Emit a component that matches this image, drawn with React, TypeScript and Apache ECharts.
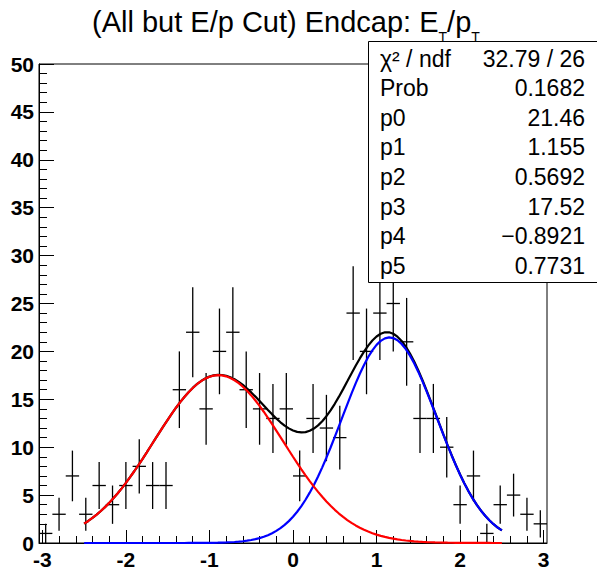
import React, { useEffect, useRef } from "react";
import * as echarts from "echarts";

const FONT = '"Liberation Sans", Arial, Helvetica, sans-serif';

// Histogram bins (centre, counts); error = Poisson sqrt(N)
const binWidth = 0.16;
const binCenters = [
  -2.96, -2.8, -2.64, -2.48, -2.32, -2.16, -2.0, -1.84, -1.68, -1.52,
  -1.36, -1.2, -1.04, -0.88, -0.72, -0.56, -0.4, -0.24, -0.08, 0.08,
  0.24, 0.4, 0.56, 0.72, 0.88, 1.04, 1.2, 1.36, 1.52, 1.68,
  1.84, 2.0, 2.16, 2.32, 2.48, 2.64, 2.8, 2.96,
];
const counts = [
  1, 3, 7, 3, 6, 4, 6, 8, 6, 6,
  16, 22, 14, 20, 22, 16, 14, 13, 14, 7,
  13, 12, 11, 24, 20, 24, 25, 21, 13, 13,
  10, 4, 7, 1, 4, 5, 3, 2,
];

// Fit parameters (double gaussian) from stats box
const fitParams = [21.46, 1.155, 0.5692, 17.52, -0.8921, 0.7731];
const fitRange = [-2.5, 2.5];
const fitNpx = 100;
const chi2Text = "32.79 / 26";
const probText = "0.1682";
const paramNames = ["p0", "p1", "p2", "p3", "p4", "p5"];

const xMajorTicks = [-3, -2, -1, 0, 1, 2, 3];
const xMinorStep = 0.2;
const xRange = [-3.04, 3.04];
const yRange = [0, 50];
const yInterval = 5;

const titleParts = ["(All but E/p Cut) Endcap: E", "T", "/p", "T"];

function gaus(x: number, a: number, m: number, s: number) {
  const t = (x - m) / s;
  return a * Math.exp(-0.5 * t * t);
}

export default function App() {
  const ref = useRef<HTMLDivElement>(null);
  useEffect(() => {
    if (!ref.current) return;
    const chart = echarts.init(ref.current, null, { renderer: "svg" });

    const [p0, p1, p2, p3, p4, p5] = fitParams;
    const xs: number[] = [];
    for (let i = 0; i <= fitNpx; i++) {
      xs.push(fitRange[0] + ((fitRange[1] - fitRange[0]) * i) / fitNpx);
    }
    const blue = xs.map((x) => [x, gaus(x, p0, p1, p2)]);
    const red = xs.map((x) => [x, gaus(x, p3, p4, p5)]);
    const total = xs.map((x) => [x, gaus(x, p0, p1, p2) + gaus(x, p3, p4, p5)]);

    const histData = binCenters.map((c, i) => [c, counts[i], Math.sqrt(counts[i])]);

    const minorTicks: number[] = [];
    for (let k = 0; k < xMajorTicks.length - 1; k++) {
      for (let j = 1; j < 5; j++) {
        minorTicks.push(+(xMajorTicks[k] + j * xMinorStep).toFixed(2));
      }
    }

    const fmt = (v: number) => String(v).replace("-", "\u2212");
    const statRows: [string, string][] = [
      ["\u03c7\u00b2 / ndf", chi2Text],
      ["Prob", probText],
      ...paramNames.map((n, i) => [n, fmt(fitParams[i])] as [string, string]),
    ];

    const boxX = 368.5;
    const boxY = 41.5;
    const rowY0 = 58.5;
    const rowDy = 29.6;
    const graphics: any[] = [
      {
        type: "rect",
        z: 100,
        shape: { x: boxX, y: boxY, width: 240, height: 241 },
        style: { fill: "#fff", stroke: "#000", lineWidth: 1 },
      },
    ];
    statRows.forEach(([l, v], i) => {
      graphics.push({
        type: "text",
        z: 101,
        x: 380,
        y: rowY0 + rowDy * i,
        style: {
          text: l,
          fontSize: 23,
          fontFamily: FONT,
          fill: "#000",
          align: "left",
          verticalAlign: "middle",
          textAlign: "left",
          textVerticalAlign: "middle",
        },
      });
      graphics.push({
        type: "text",
        z: 101,
        x: 585,
        y: rowY0 + rowDy * i,
        style: {
          text: v,
          fontSize: 23,
          fontFamily: FONT,
          fill: "#000",
          align: "right",
          verticalAlign: "middle",
          textAlign: "right",
          textVerticalAlign: "middle",
        },
      });
    });

    const option: any = {
      animation: false,
      backgroundColor: "#fff",
      title: {
        text: `{a|${titleParts[0]}}{s|${titleParts[1]}}{a|${titleParts[2]}}{s|${titleParts[3]}}`,
        left: 92,
        top: 7.5,
        padding: 0,
        z: 200,
        textStyle: {
          fontWeight: "normal",
          rich: {
            a: { fontSize: 29, lineHeight: 29, fontWeight: "normal", verticalAlign: "top", fontFamily: FONT, color: "#000" },
            s: { fontSize: 14, lineHeight: 14, fontWeight: "normal", padding: [22.5, 0, 0, 0], verticalAlign: "top", fontFamily: FONT, color: "#000" },
          },
        },
      },
      grid: {
        left: 39,
        top: 64,
        width: 508,
        height: 480,
        show: true,
        borderColor: "#000",
        borderWidth: 1,
        backgroundColor: "transparent",
      },
      xAxis: [
        {
          type: "value",
          min: xRange[0],
          max: xRange[1],
          position: "bottom",
          axisLine: { show: true, onZero: false, lineStyle: { color: "#000", width: 1 } },
          axisTick: { show: true, inside: true, length: 13, customValues: xMajorTicks, lineStyle: { color: "#000", width: 1 } },
          axisLabel: {
            show: true,
            customValues: xMajorTicks,
            fontSize: 21,
            fontWeight: "bold",
            fontFamily: FONT,
            color: "#000",
            margin: 6,
          },
          splitLine: { show: false },
        },
        {
          type: "value",
          min: xRange[0],
          max: xRange[1],
          position: "bottom",
          axisLine: { show: false, onZero: false },
          axisTick: { show: true, inside: true, length: 7, customValues: minorTicks, lineStyle: { color: "#000", width: 1 } },
          axisLabel: { show: false },
          splitLine: { show: false },
        },
      ],
      yAxis: {
        type: "value",
        min: yRange[0],
        max: yRange[1],
        interval: yInterval,
        axisLine: { show: true, onZero: false, lineStyle: { color: "#000", width: 1 } },
        axisTick: { show: true, inside: true, length: 15, lineStyle: { color: "#000", width: 1 } },
        minorTick: { show: true, splitNumber: 5, length: 8, lineStyle: { color: "#000", width: 1 } },
        axisLabel: { fontSize: 21, fontWeight: "bold", fontFamily: FONT, color: "#000", margin: 5 },
        splitLine: { show: false },
      },
      graphic: graphics,
      series: [
        {
          type: "custom",
          name: "data",
          xAxisIndex: 0,
          yAxisIndex: 0,
          data: histData,
          z: 2,
          clip: true,
          renderItem: (_p: any, api: any) => {
            const x = api.value(0);
            const y = api.value(1);
            const e = api.value(2);
            const lo = api.coord([x, y - e]);
            const hi = api.coord([x, y + e]);
            const l = api.coord([x - binWidth / 2, y]);
            const r = api.coord([x + binWidth / 2, y]);
            const st = { stroke: "#000", lineWidth: 1.3 };
            return {
              type: "group",
              children: [
                { type: "line", shape: { x1: lo[0], y1: lo[1], x2: hi[0], y2: hi[1] }, style: st },
                { type: "line", shape: { x1: l[0], y1: l[1], x2: r[0], y2: r[1] }, style: st },
              ],
            };
          },
        },
        {
          type: "line",
          name: "total",
          data: total,
          showSymbol: false,
          symbol: "none",
          lineStyle: { color: "#000", width: 2.2 },
          z: 3,
        },
        {
          type: "line",
          name: "g1",
          data: blue,
          showSymbol: false,
          symbol: "none",
          lineStyle: { color: "#0000ff", width: 2.2 },
          z: 4,
        },
        {
          type: "line",
          name: "g2",
          data: red,
          showSymbol: false,
          symbol: "none",
          lineStyle: { color: "#ff0000", width: 2.2 },
          z: 5,
        },
      ],
    };
    chart.setOption(option);
    return () => chart.dispose();
  }, []);
  return (
    <div
      ref={ref}
      style={{ position: "fixed", left: 0, top: 0, width: 597, height: 570, background: "#fff" }}
    />
  );
}
